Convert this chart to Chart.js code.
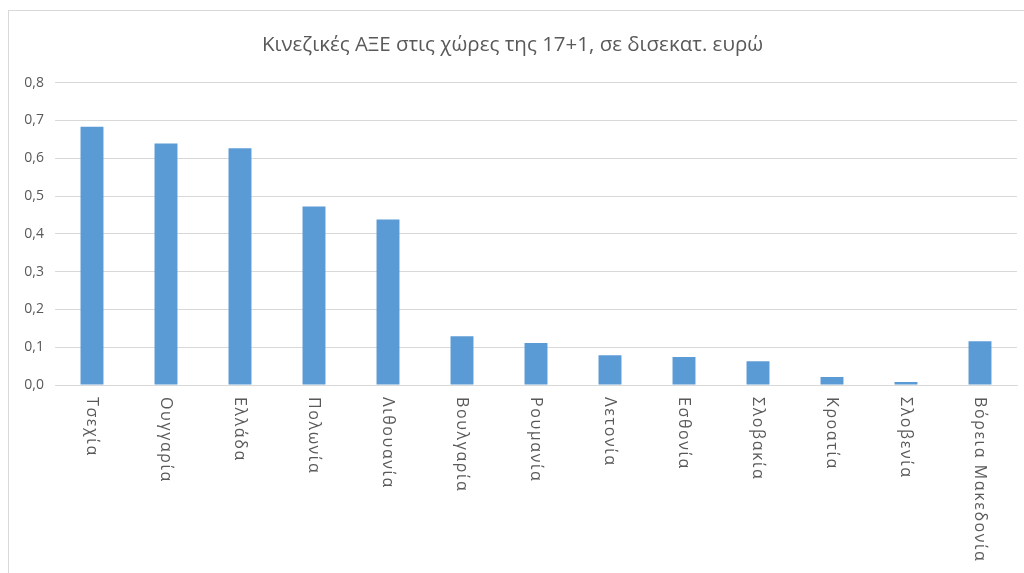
<!DOCTYPE html>
<html>
<head>
<meta charset="utf-8">
<script src="https://cdn.jsdelivr.net/npm/chart.js@4/dist/chart.umd.min.js"></script>
<style>
  html, body { margin: 0; padding: 0; background: #fff; }
  #wrap { width: 1024px; height: 573px; position: relative; }
</style>
</head>
<body>
<div id="wrap"><canvas id="c" width="1024" height="573"></canvas></div>
<script>
const chartTitle = 'Κινεζικές ΑΞΕ στις χώρες της 17+1, σε δισεκατ. ευρώ';
const categories = ['Τσεχία', 'Ουγγαρία', 'Ελλάδα', 'Πολωνία', 'Λιθουανία', 'Βουλγαρία', 'Ρουμανία', 'Λετονία', 'Εσθονία', 'Σλοβακία', 'Κροατία', 'Σλοβενία', 'Βόρεια Μακεδονία'];
const values = [0.683, 0.639, 0.626, 0.472, 0.438, 0.129, 0.111, 0.079, 0.074, 0.063, 0.021, 0.008, 0.116];
const yTicks = [0, 0.1, 0.2, 0.3, 0.4, 0.5, 0.6, 0.7, 0.8];

const textColor = '#595959';
const fontFam = '"Open Sans", "Noto Sans", sans-serif';

const framePlugin = {
  id: 'frame',
  beforeDraw(chart) {
    const ctx = chart.ctx;
    ctx.save();
    ctx.fillStyle = '#fff';
    ctx.fillRect(0, 0, chart.width, chart.height);
    ctx.strokeStyle = '#d9d9d9';
    ctx.lineWidth = 1;
    ctx.strokeRect(8.5, 10.5, chart.width + 10, chart.height + 10);
    ctx.restore();
  }
};

const xLabelPlugin = {
  id: 'xlabels',
  afterDraw(chart) {
    const ctx = chart.ctx;
    const xs = chart.scales.x;
    ctx.save();
    ctx.fillStyle = textColor;
    ctx.font = '16px ' + fontFam;
    try { ctx.letterSpacing = '1.6px'; } catch (e) {}
    ctx.textAlign = 'left';
    ctx.textBaseline = 'middle';
    categories.forEach((lab, i) => {
      const x = xs.getPixelForValue(i);
      ctx.save();
      ctx.translate(x, xs.top + 12);
      ctx.rotate(Math.PI / 2);
      ctx.fillText(lab, 0, 0);
      ctx.restore();
    });
    ctx.restore();
  }
};

new Chart(document.getElementById('c'), {
  type: 'bar',
  data: {
    labels: categories,
    datasets: [{
      data: values,
      backgroundColor: '#5B9BD5',
      borderWidth: 0,
      barPercentage: 0.31,
      categoryPercentage: 1.0
    }]
  },
  options: {
    responsive: false,
    animation: false,
    devicePixelRatio: 1,
    layout: { padding: { left: 8, right: 7, top: 0, bottom: 0 } },
    plugins: {
      legend: { display: false },
      tooltip: { enabled: false },
      title: {
        display: true,
        text: chartTitle,
        color: textColor,
        font: { family: fontFam, size: 20.5, weight: 'normal' },
        padding: { top: 33, bottom: 25 }
      }
    },
    scales: {
      x: {
        grid: { display: false, drawTicks: false },
        border: { display: true, color: '#d9d9d9' },
        ticks: { display: false },
        afterFit(s) { s.height = 188; }
      },
      y: {
        min: 0,
        max: 0.8,
        afterBuildTicks(s) { s.ticks = yTicks.map(v => ({ value: v })); },
        grid: { color: '#d9d9d9', drawTicks: false },
        border: { display: false },
        ticks: {
          color: textColor,
          font: { family: fontFam, size: 14 },
          padding: 11,
          callback: v => Number(v).toFixed(1).replace('.', ',')
        },
        afterFit(s) { s.width = 47; }
      }
    }
  },
  plugins: [framePlugin, xLabelPlugin]
});
</script>
</body>
</html>
